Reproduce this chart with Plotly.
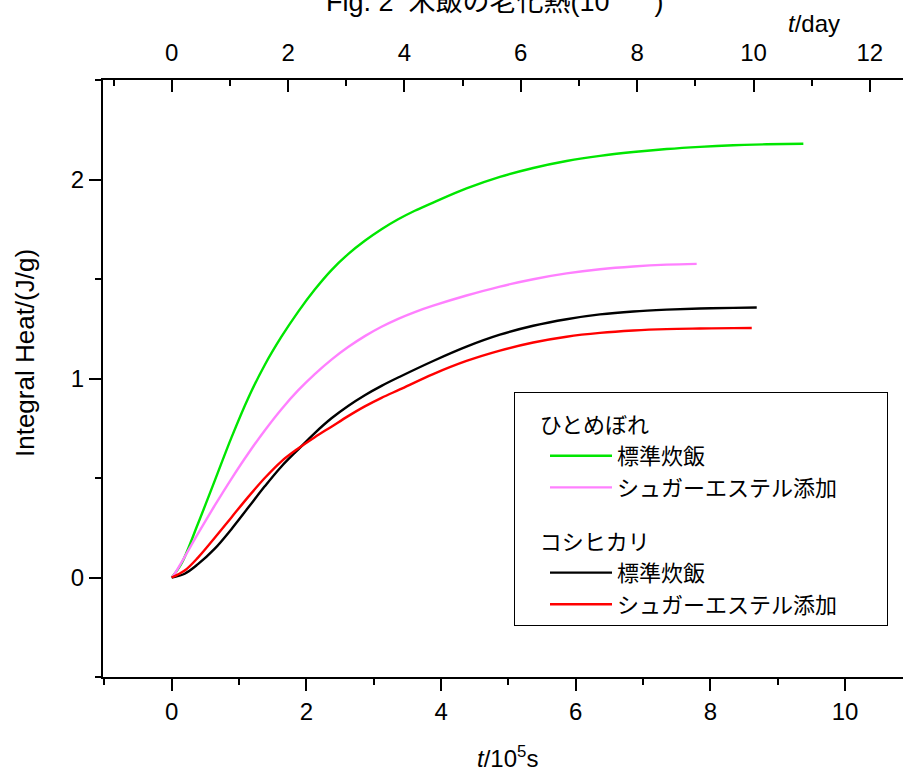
import plotly.graph_objects as go

# ---- data (x in 10^5 s, y in J/g) ----
hitome_std_x = [0, 0.144, 0.39, 0.64, 0.887, 1.134, 1.382, 1.63, 1.877, 2.125, 2.373, 2.62, 2.868, 3.116, 3.363,
                3.61, 3.883, 4.378, 4.874, 5.369, 5.864, 6.36, 6.855, 7.35, 7.845, 8.34, 8.836, 9.38]
hitome_std_y = [0, 0.069, 0.27, 0.487, 0.703, 0.900, 1.068, 1.210, 1.335, 1.447, 1.545, 1.625, 1.692, 1.750, 1.800,
                1.843, 1.884, 1.955, 2.013, 2.058, 2.093, 2.119, 2.138, 2.153, 2.164, 2.172, 2.177, 2.180]

hitome_sug_x = [0, 0.045, 0.39, 0.64, 0.887, 1.134, 1.382, 1.63, 1.877, 2.125, 2.373, 2.62, 2.868, 3.116, 3.363,
                3.61, 3.883, 4.378, 4.874, 5.369, 5.864, 6.36, 6.855, 7.35, 7.796]
hitome_sug_y = [0, 0.019, 0.22, 0.362, 0.496, 0.622, 0.739, 0.846, 0.940, 1.022, 1.095, 1.158, 1.213, 1.260, 1.300,
                1.334, 1.366, 1.417, 1.462, 1.499, 1.528, 1.549, 1.563, 1.572, 1.576]

koshi_std_x = [0, 0.193, 0.39, 0.64, 0.887, 1.134, 1.382, 1.63, 1.877, 2.125, 2.373, 2.62, 2.868, 3.116, 3.388,
               3.883, 4.378, 4.874, 5.369, 5.864, 6.36, 6.855, 7.35, 7.845, 8.34, 8.688]
koshi_std_y = [0, 0.019, 0.067, 0.145, 0.243, 0.350, 0.458, 0.558, 0.643, 0.726, 0.800, 0.862, 0.916, 0.963, 1.009,
               1.088, 1.160, 1.220, 1.265, 1.298, 1.322, 1.337, 1.346, 1.352, 1.355, 1.357]

koshi_sug_x = [0, 0.193, 0.39, 0.64, 0.887, 1.134, 1.382, 1.63, 1.877, 2.125, 2.373, 2.62, 2.868, 3.116, 3.388,
               3.883, 4.378, 4.874, 5.369, 5.864, 6.36, 6.855, 7.35, 7.845, 8.34, 8.614]
koshi_sug_y = [0, 0.035, 0.100, 0.200, 0.302, 0.404, 0.500, 0.584, 0.648, 0.705, 0.758, 0.811, 0.860, 0.903, 0.945,
               1.022, 1.088, 1.140, 1.181, 1.210, 1.229, 1.241, 1.248, 1.251, 1.253, 1.254]

group_names = ["ひとめぼれ", "コシヒカリ"]
series_names = ["標準炊飯", "シュガーエステル添加"]
colors = ["#00e600", "#ff80ff", "#000000", "#ff0000"]

SEC_PER_DAY_1E5 = 0.864  # 1 day = 0.864 x 10^5 s
x_range = [-1.02, 10.86]
y_range = [-0.5, 2.5]

FONT = "Liberation Sans, Arial, Noto Sans CJK JP, sans-serif"
CJK = "Noto Sans CJK JP, Liberation Sans, sans-serif"
NB = "\u00a0"

L, R, T, B = 103, 0, 80, 97
W, H = 903, 774
PW, PH = W - L - R, H - T - B


def px_to_paper_x(px):
    return (px - L) / PW


def py_to_paper_y(py):
    return (H - B - py) / PH


fig = go.Figure()
series = [
    (hitome_std_x, hitome_std_y, 0, 0),
    (hitome_sug_x, hitome_sug_y, 0, 1),
    (koshi_std_x, koshi_std_y, 1, 0),
    (koshi_sug_x, koshi_sug_y, 1, 1),
]
for i, (xs, ys, g, s) in enumerate(series):
    fig.add_trace(go.Scatter(
        x=xs, y=ys, mode="lines", name=series_names[s] + NB * 9,
        line=dict(color=colors[i], width=2.4, shape="spline", smoothing=1.0),
        legendgroup=group_names[g],
        legendgrouptitle=dict(text=NB * 4 + group_names[g],
                              font=dict(family=CJK, size=22, color="black")),
        hoverinfo="skip",
    ))

# invisible trace to carry the top (day) axis
fig.add_trace(go.Scatter(
    x=[v / SEC_PER_DAY_1E5 for v in hitome_std_x], y=hitome_std_y, xaxis="x2",
    mode="lines", line=dict(width=0), opacity=0, showlegend=False, hoverinfo="skip"))

axis_common = dict(showline=True, linecolor="black", linewidth=2, showgrid=False, zeroline=False,
                   tickcolor="black", tickwidth=2, ticklen=12, automargin=False,
                   tickfont=dict(family=FONT, size=24, color="black"))

fig.update_layout(
    width=W, height=H,
    margin=dict(l=L, r=R, t=T, b=B, autoexpand=False),
    paper_bgcolor="white", plot_bgcolor="white",
    showlegend=True,
    legend=dict(x=px_to_paper_x(514), y=py_to_paper_y(392), xanchor="left", yanchor="top",
                bordercolor="black", borderwidth=1, bgcolor="white",
                font=dict(family=CJK, size=22, color="black"),
                title=dict(text=NB, font=dict(family=CJK, size=8, color="black")),
                tracegroupgap=22, itemwidth=62, traceorder="grouped", indentation=30),
    xaxis=dict(range=x_range, ticks="outside", dtick=2, tick0=0,
               minor=dict(dtick=1, ticklen=6, tickwidth=2, tickcolor="black", ticks="outside"),
               **axis_common),
    xaxis2=dict(range=[x_range[0] / SEC_PER_DAY_1E5, x_range[1] / SEC_PER_DAY_1E5], overlaying="x", side="top",
                anchor="y", ticks="inside", dtick=2, tick0=0, ticklabelstandoff=7,
                minor=dict(dtick=1, ticklen=6, tickwidth=2, tickcolor="black", ticks="inside"),
                **axis_common),
    yaxis=dict(range=y_range, ticks="outside", dtick=1, tick0=0,
               minor=dict(dtick=0.5, ticklen=6, tickwidth=2, tickcolor="black", ticks="outside"),
               **axis_common),
    annotations=[
        dict(text="<i>t</i>/day", xref="paper", yref="paper", x=px_to_paper_x(814), y=py_to_paper_y(24),
             xanchor="center", yanchor="middle", showarrow=False,
             font=dict(family=FONT, size=24, color="black")),
        dict(text="<i>t</i>/10<sup>5</sup>s", xref="paper", yref="paper", x=px_to_paper_x(507), y=py_to_paper_y(757),
             xanchor="center", yanchor="middle", showarrow=False,
             font=dict(family=FONT, size=24, color="black")),
        dict(text="Integral Heat/(J/g)", xref="paper", yref="paper", x=px_to_paper_x(25), y=py_to_paper_y(353),
             xanchor="center", yanchor="middle", textangle=-90, showarrow=False,
             font=dict(family=FONT, size=26, color="black")),
        dict(text="Fig. 2" + NB * 2 + "米飯の老化熱(10" + NB * 6 + ")", xref="paper", yref="paper",
             x=px_to_paper_x(495), y=py_to_paper_y(2),
             xanchor="center", yanchor="middle", showarrow=False,
             font=dict(family=FONT, size=27, color="black")),
    ],
)

fig.write_html("out.html", config={"displayModeBar": False, "staticPlot": True},
               post_script="document.body.style.margin='0';document.body.style.overflow='hidden';")
